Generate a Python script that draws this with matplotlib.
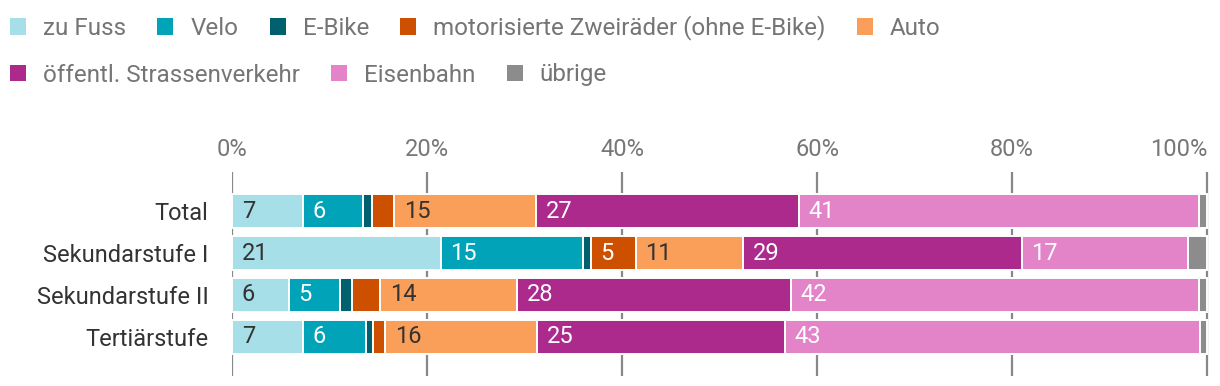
import numpy as np
import matplotlib
matplotlib.use('Agg')
import matplotlib.pyplot as plt
from matplotlib.patches import Patch

plt.rcParams['font.family'] = ['Roboto', 'DejaVu Sans']
plt.rcParams['font.size'] = 17

# Daten (Anteile in %)
categories = ['Total', 'Sekundarstufe I', 'Sekundarstufe II', 'Tertiärstufe']
modes = ['zu Fuss', 'Velo', 'E-Bike', 'motorisierte Zweiräder (ohne E-Bike)', 'Auto',
         'öffentl. Strassenverkehr', 'Eisenbahn', 'übrige']
zu_fuss = [7.3, 21.4, 5.8, 7.3]
velo = [6.1, 14.6, 5.3, 6.4]
e_bike = [1.0, 0.8, 1.2, 0.8]
moto = [2.2, 4.6, 2.9, 1.2]
auto = [14.6, 11.0, 14.0, 15.6]
oev = [26.9, 28.6, 28.1, 25.4]
eisenbahn = [41.1, 17.0, 41.9, 42.6]
uebrige = [0.8, 2.0, 0.8, 0.7]
xticks = [0, 20, 40, 60, 80, 100]

series = [zu_fuss, velo, e_bike, moto, auto, oev, eisenbahn, uebrige]
colors = ['#a6dfe8', '#00a3b8', '#00606d', '#cc5000', '#f99f5a',
          '#ac2a8c', '#e383c8', '#8c8c8c']
label_colors = ['#333333', 'white', 'white', 'white', '#333333',
                'white', 'white', 'white']

fig = plt.figure(figsize=(12.2, 3.86), dpi=100, facecolor='white')
ax = fig.add_axes([232/1220, 10/386, 977/1220, 204/386])

y = np.arange(len(categories))
left = np.zeros(len(categories))
for vals, col, lcol in zip(series, colors, label_colors):
    vals = np.array(vals)
    ax.barh(y, vals, left=left, height=0.82, color=col, edgecolor='white',
            linewidth=1.4, zorder=3)
    for yi, l, v in zip(y, left, vals):
        if v >= 3:
            ax.annotate('%d' % round(v), (l, yi), xytext=(7, 0), textcoords='offset points',
                        ha='left', va='center', color=lcol, fontsize=17, zorder=4)
    left = left + vals

ax.set_xlim(0, 100.2)
ax.set_ylim(len(categories) - 1 + 0.93, -0.93)
ax.set_yticks(y)
ax.set_yticklabels(categories, color='#333333')
ax.set_xticks(xticks)
ax.set_xticklabels(['%d%%' % t for t in xticks], color='#777777')
ax.xaxis.tick_top()
ax.tick_params(axis='x', length=0, pad=8)
ax.tick_params(axis='y', length=0, pad=17)
for s in ax.spines.values():
    s.set_visible(False)
ax.grid(axis='x', color='#888888', linewidth=1.6, zorder=0)
ax.set_axisbelow(True)

# Legende in zwei Zeilen
handles = [Patch(facecolor=c, edgecolor='none') for c in colors]
leg_kw = dict(loc='center left', frameon=False, borderpad=0, borderaxespad=0,
              handlelength=0.66, handleheight=0.66, handletextpad=0.7,
              columnspacing=1.3, labelcolor='#757575', fontsize=17.4)
fig.legend(handles[:5], modes[:5], ncol=5, bbox_to_anchor=(0.0082, 1 - 28/386), **leg_kw)
fig.legend(handles[5:], modes[5:], ncol=3, bbox_to_anchor=(0.0082, 1 - 75/386), **leg_kw)

# letztes Tick-Label (100%) rechtsbuendig, damit es nicht abgeschnitten wird
fig.canvas.draw()
ax.xaxis.get_major_ticks()[-1].label2.set_horizontalalignment('right')

plt.savefig('out.png', dpi=100)
